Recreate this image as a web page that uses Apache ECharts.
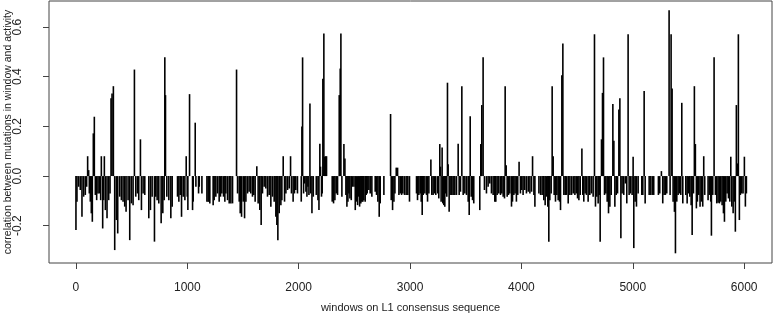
<!DOCTYPE html>
<html>
<head>
<meta charset="utf-8">
<script src="https://cdn.jsdelivr.net/npm/echarts@6/dist/echarts.min.js"></script>
<style>html,body{margin:0;padding:0;background:#fff;}#c{width:777px;height:317px;}</style>
</head>
<body>
<div id="c"></div>
<script>
// window positions on L1 consensus sequence
const windowPos = [
0,9,24,39,54,69,84,96,105,114,120,129,138,147,156,165,174,186,198,210,222,228,240,249,255,264,279,294,306,315,324,336,348,363,375,393,408,423,438,450,468,483,498,513,525,537,552,564,579,588,603,618,654,669,684,705,717,729,744,765,780,792,798,804,816,834,852,864,912,924,936,948,963,978,990,999,1005,1020,
1047,1053,1071,1077,1101,1107,1131,1176,1187,1196,1202,1232,1241,1256,1271,1286,1298,1310,1325,1337,1346,1361,1376,1391,1406,1442,1451,1466,1475,1487,1502,1514,1526,1541,1555,1570,1585,1597,1609,1624,1636,1651,1663,1675,1690,1705,1720,1735,1750,1765,1780,1795,1804,1813,1825,1840,1849,1861,1873,1885,1900,1915,1927,1935,1950,1962,1974,1989,
2023,2029,2035,2044,2053,2065,2074,2083,2092,2101,2107,2119,2131,2158,2173,2182,2190,2196,2205,2211,2217,2226,2232,2241,2250,2301,2313,2325,2337,2349,2364,2373,2379,2388,2406,2415,2424,2433,2442,2451,2460,2472,2481,2496,2508,2517,2529,2538,2547,2558,2567,2576,2585,2597,2606,2615,2630,2642,2657,2687,2699,2711,2723,2732,2765,2825,2831,2843,2855,2864,2876,2888,2900,2912,2924,2935,2950,2965,2980,2995,
3058,3067,3079,3091,3100,3109,3118,3133,3148,3157,3169,3187,3195,3207,3219,3231,3249,3258,3267,3273,3279,3288,3294,3303,3312,3321,3330,3336,3342,3351,3360,3375,3387,3402,3417,3432,3441,3453,3465,3477,3492,3507,3522,3531,3540,3549,3561,3572,3626,3635,3644,3656,3668,3686,3701,3716,3731,3746,3761,3770,3782,3797,3812,3824,3836,3848,3854,3863,3872,3884,3896,3911,3920,3932,3943,3955,3967,3979,3991,4003,4015,4030,4045,
4061,4076,4091,4100,4112,4121,4157,4172,4186,4201,4213,4225,4237,4246,4255,4267,4276,4285,4294,4306,4318,4330,4342,4351,4363,4372,4381,4393,4405,4420,4435,4450,4465,4480,4492,4504,4516,4528,4543,4551,4560,4572,4584,4599,4614,4629,4644,4656,4665,4677,4689,4698,4707,4719,4728,4737,4746,4758,4770,4782,4794,4806,4821,4830,4839,4851,4863,4875,4884,4893,4904,4919,4934,4946,4958,4967,4979,4994,5003,5009,5021,5033,
5048,5081,5090,5102,5111,5147,5162,5177,5188,5230,5242,5257,5269,5281,5293,5305,5326,5335,5344,5353,5362,5374,5383,5395,5407,5419,5431,5440,5449,5476,5488,5500,5512,5524,5533,5545,5553,5562,5571,5580,5592,5604,5616,5628,5637,5646,5676,5688,5700,5706,5718,5730,5742,5754,5766,5778,5790,5802,5814,5823,5835,5847,5859,5871,5880,5889,5901,5913,5921,5930,5939,5948,5957,5966,5978,5990,6002,6011,6020
];
// correlation between mutations in window and activity
const corrValues = [
-0.217,-0.103,-0.043,-0.056,-0.164,-0.083,-0.076,-0.043,0.080,0.024,-0.070,-0.103,-0.150,-0.184,0.172,0.239,-0.076,-0.097,-0.070,-0.070,-0.097,0.080,-0.211,-0.097,0.080,-0.137,-0.170,-0.097,-0.070,0.313,0.333,0.362,-0.298,-0.177,-0.231,-0.083,-0.097,-0.103,-0.123,-0.144,-0.097,-0.258,-0.110,-0.117,0.429,-0.083,-0.070,-0.097,0.148,-0.137,-0.070,-0.076,-0.170,-0.137,-0.083,-0.264,-0.083,-0.097,-0.110,-0.190,-0.150,-0.097,0.478,0.326,-0.083,-0.097,-0.170,-0.123,-0.083,-0.103,-0.076,-0.164,-0.083,-0.097,0.080,-0.083,-0.137,0.330,
-0.137,-0.103,0.215,-0.043,-0.070,-0.043,-0.070,-0.103,-0.103,-0.103,-0.110,-0.117,-0.097,-0.083,-0.070,-0.103,-0.083,-0.070,-0.083,-0.103,-0.070,-0.097,-0.110,-0.110,-0.110,0.429,-0.070,-0.103,-0.150,-0.164,-0.103,-0.170,-0.103,-0.070,-0.063,-0.070,-0.083,-0.076,-0.103,0.040,-0.110,-0.137,-0.197,-0.070,-0.043,-0.050,-0.083,-0.076,-0.123,-0.083,-0.103,-0.164,-0.197,-0.258,-0.150,-0.117,-0.097,0.080,-0.103,-0.070,-0.056,-0.050,0.080,-0.070,-0.103,-0.070,-0.056,-0.070,
-0.103,0.200,0.478,-0.070,-0.030,-0.063,-0.083,-0.043,-0.076,0.292,-0.070,-0.150,-0.083,-0.076,-0.097,-0.137,0.130,0.038,-0.083,-0.070,0.392,0.574,0.078,0.080,0.080,-0.103,-0.110,-0.097,-0.070,-0.076,0.326,0.433,0.574,-0.083,0.129,0.071,-0.076,-0.123,-0.103,-0.070,-0.090,-0.097,-0.043,-0.043,-0.137,-0.103,-0.117,-0.083,-0.123,-0.110,-0.103,-0.103,-0.097,-0.103,-0.076,-0.070,-0.056,-0.070,-0.083,-0.063,-0.076,-0.103,-0.164,-0.110,-0.076,0.250,-0.097,-0.137,-0.103,-0.070,0.034,0.034,-0.076,-0.070,-0.076,-0.070,-0.076,-0.076,-0.076,-0.103,
-0.070,-0.097,-0.076,-0.070,-0.103,-0.157,-0.076,-0.070,-0.076,-0.103,-0.070,0.067,-0.076,-0.076,-0.070,-0.076,-0.070,-0.090,0.129,0.038,-0.103,0.115,-0.110,-0.117,-0.123,-0.070,-0.083,0.376,0.048,-0.144,-0.076,-0.076,-0.076,-0.076,-0.076,0.130,-0.076,-0.063,0.362,-0.076,-0.070,-0.076,-0.103,-0.157,0.241,-0.083,-0.097,-0.110,-0.137,0.129,0.286,0.478,-0.056,-0.070,-0.043,-0.030,-0.070,-0.076,-0.103,-0.103,-0.076,-0.070,-0.076,-0.070,-0.083,-0.090,0.362,0.044,-0.083,-0.076,-0.070,-0.123,-0.103,-0.076,-0.070,-0.103,-0.076,0.058,-0.070,-0.056,-0.076,-0.056,-0.070,
-0.063,-0.070,-0.063,0.080,-0.076,-0.123,-0.070,-0.076,-0.076,-0.097,-0.117,-0.083,-0.123,-0.264,-0.097,-0.070,0.362,0.080,-0.076,-0.103,-0.076,-0.097,-0.103,-0.137,0.406,0.534,-0.076,-0.076,-0.076,-0.110,-0.076,-0.076,-0.070,-0.076,-0.070,-0.090,-0.097,-0.076,0.111,-0.076,-0.103,-0.070,-0.076,-0.103,-0.076,-0.070,-0.083,0.571,-0.123,-0.083,-0.110,-0.076,-0.264,0.148,0.335,0.478,-0.076,-0.070,-0.103,-0.150,-0.123,-0.076,0.290,0.142,-0.123,-0.076,-0.070,0.268,0.313,-0.250,-0.070,-0.076,-0.030,-0.110,0.571,-0.076,-0.070,-0.076,0.078,-0.290,-0.103,-0.123,
-0.070,-0.076,-0.076,0.343,-0.110,-0.076,-0.076,-0.076,-0.076,-0.076,-0.070,0.020,-0.110,-0.076,-0.076,-0.070,0.668,-0.076,0.571,0.353,-0.103,-0.144,-0.311,-0.103,-0.076,-0.070,-0.076,0.295,-0.110,-0.076,-0.110,-0.070,-0.083,-0.117,-0.237,-0.070,0.362,0.129,-0.130,-0.103,-0.076,-0.123,-0.103,-0.123,0.080,-0.076,-0.097,-0.076,-0.103,-0.240,-0.076,0.478,-0.076,-0.110,-0.107,-0.110,-0.103,-0.117,-0.150,-0.184,-0.103,-0.070,-0.090,-0.103,0.078,-0.123,-0.150,-0.103,-0.224,0.286,0.051,0.571,-0.177,-0.076,-0.070,-0.070,0.078,-0.123,-0.070
];
const xTicks = [0, 1000, 2000, 3000, 4000, 5000, 6000];
const yTicks = [-0.2, 0.0, 0.2, 0.4, 0.6];
const xTitle = 'windows on L1 consensus sequence';
const yTitle = 'correlation between mutations in window and activity';

const data = windowPos.map((p, i) => [p, corrValues[i]]);
const FONT = "'Liberation Sans', Arial, sans-serif";
const chart = echarts.init(document.getElementById('c'), null, {renderer: 'canvas'});
chart.setOption({
  animation: false,
  backgroundColor: '#ffffff',
  grid: {left: 49, top: 1, width: 723, height: 262, show: true, borderColor: '#444', borderWidth: 1,
    backgroundColor: 'transparent', containLabel: false, outerBoundsMode: 'none'},
  xAxis: {
    type: 'value', min: -242, max: 6250,
    name: xTitle, nameLocation: 'middle', nameGap: 39, nameMoveOverlap: false,
    nameTextStyle: {fontFamily: FONT, fontSize: 11, color: '#222'},
    axisLine: {show: false, onZero: false},
    axisTick: {show: true, inside: false, length: 6, customValues: xTicks, lineStyle: {color: '#444'}},
    axisLabel: {customValues: xTicks, margin: 19, fontFamily: FONT, fontSize: 12, color: '#222',
      formatter: v => String(v)},
    splitLine: {show: false}
  },
  yAxis: {
    type: 'value', min: -0.35, max: 0.705,
    name: yTitle, nameLocation: 'middle', nameGap: 35, nameRotate: 90, nameMoveOverlap: false,
    nameTextStyle: {fontFamily: FONT, fontSize: 10.5, color: '#222'},
    axisLine: {show: false, onZero: false},
    axisTick: {show: true, inside: false, length: 6, customValues: yTicks, lineStyle: {color: '#444'}},
    axisLabel: {customValues: yTicks, rotate: 90, margin: 25, fontFamily: FONT, fontSize: 12, color: '#222',
      formatter: v => v.toFixed(1)},
    splitLine: {show: false}
  },
  series: [{
    type: 'custom',
    data: data,
    renderItem: function (params, api) {
      const x = api.value(0), y = api.value(1);
      const p0 = api.coord([x, 0]);
      const p1 = api.coord([x, y]);
      return {type: 'line', shape: {x1: p0[0], y1: p0[1], x2: p1[0], y2: p1[1]},
        style: {stroke: '#000', lineWidth: 1.6}};
    }
  }]
});
</script>
</body>
</html>
